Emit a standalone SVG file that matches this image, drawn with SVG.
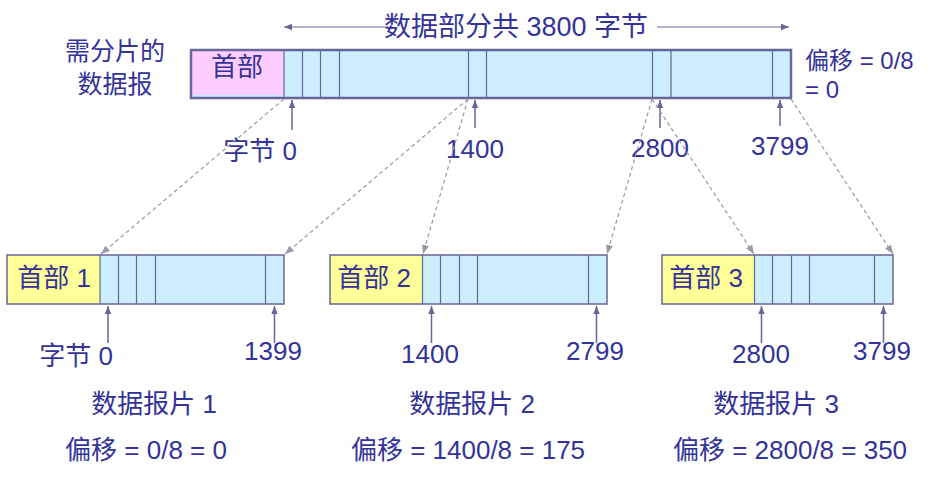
<svg xmlns="http://www.w3.org/2000/svg" width="940" height="481" viewBox="0 0 940 481">
<defs>
<style>
text{font-family:"Liberation Sans","Noto Sans CJK SC",sans-serif;font-size:26px;fill:#333399}
.m{text-anchor:middle}
.off{font-size:24px}
.data{fill:#cceeff;stroke:none}
.box{fill:none;stroke:#666699;stroke-width:2.5}
.fbox{fill:none;stroke:#666699;stroke-width:1.5}
.div{stroke:#666699;stroke-width:1.2}
.up{stroke:#666699;stroke-width:1.5;fill:none;marker-end:url(#ah)}
.dash{stroke:#9999aa;stroke-width:1.2;stroke-dasharray:4 3;fill:none;marker-end:url(#dh)}
.top{stroke:#666699;stroke-width:1.2;fill:none;marker-end:url(#ah)}
</style>
<marker id="ah" viewBox="0 0 10 10" refX="10" refY="5" markerWidth="8" markerHeight="8" markerUnits="userSpaceOnUse" orient="auto"><path d="M0,1 L10,5 L0,9 Z" fill="#666699"/></marker>
<marker id="dh" viewBox="0 0 10 10" refX="10" refY="5" markerWidth="9" markerHeight="9" markerUnits="userSpaceOnUse" orient="auto"><path d="M0,1 L10,5 L0,9 Z" fill="#9999aa"/></marker>
</defs>

<g id="title">
<line class="top" x1="388" y1="27" x2="284" y2="27"/>
<line class="top" x1="657" y1="27" x2="789" y2="27"/>
<text class="m" x="516" y="36" style="font-size:27px">数据部分共 3800 字节</text>
</g>

<g id="datagram">
<text class="m off" x="115" y="60" style="font-size:25px">需分片的</text>
<text class="m off" x="115" y="93" style="font-size:25px">数据报</text>
<rect class="data" x="191" y="50" width="600" height="48"/>
<rect x="191" y="50" width="93" height="45" fill="#ffccff"/>
<line class="div" x1="284" y1="50" x2="284" y2="98"/>
<line class="div" x1="302.5" y1="50" x2="302.5" y2="98"/>
<line class="div" x1="320.5" y1="50" x2="320.5" y2="98"/>
<line class="div" x1="339.5" y1="50" x2="339.5" y2="98"/>
<line class="div" x1="468.5" y1="50" x2="468.5" y2="98"/>
<line class="div" x1="486.5" y1="50" x2="486.5" y2="98"/>
<line class="div" x1="652.5" y1="50" x2="652.5" y2="98"/>
<line class="div" x1="671" y1="50" x2="671" y2="98"/>
<line class="div" x1="772.5" y1="50" x2="772.5" y2="98"/>
<rect class="box" x="191" y="50" width="600" height="48"/>
<text class="m" x="237" y="76">首部</text>
<text class="off" x="805" y="69">偏移 = 0/8</text>
<text class="off" x="805" y="98">= 0</text>
<text class="m" x="260" y="160">字节 0</text>
<text class="m" x="475" y="158">1400</text>
<text class="m" x="660" y="157">2800</text>
<text class="m" x="780" y="155">3799</text>
</g>

<g id="frag1">
<rect class="data" x="7" y="255" width="277" height="49"/>
<rect x="7" y="255" width="93" height="49" fill="#ffff99"/>
<line class="div" x1="100" y1="255" x2="100" y2="304"/>
<line class="div" x1="118.5" y1="255" x2="118.5" y2="304"/>
<line class="div" x1="136.5" y1="255" x2="136.5" y2="304"/>
<line class="div" x1="155.5" y1="255" x2="155.5" y2="304"/>
<line class="div" x1="265.5" y1="255" x2="265.5" y2="304"/>
<rect class="fbox" x="7" y="255" width="277" height="49"/>
<text class="m" x="54" y="287">首部 1</text>
<text class="m" x="76" y="365">字节 0</text>
<text class="m" x="273" y="360">1399</text>
<text class="m" x="154" y="413">数据报片 1</text>
<text class="m" x="146" y="459">偏移 = 0/8 = 0</text>
</g>

<g id="frag2">
<rect class="data" x="330" y="255" width="277" height="49"/>
<rect x="330" y="255" width="92" height="49" fill="#ffff99"/>
<line class="div" x1="422.5" y1="255" x2="422.5" y2="304"/>
<line class="div" x1="440.5" y1="255" x2="440.5" y2="304"/>
<line class="div" x1="459.5" y1="255" x2="459.5" y2="304"/>
<line class="div" x1="477.5" y1="255" x2="477.5" y2="304"/>
<line class="div" x1="588.5" y1="255" x2="588.5" y2="304"/>
<rect class="fbox" x="330" y="255" width="277" height="49"/>
<text class="m" x="374" y="287">首部 2</text>
<text class="m" x="430" y="363">1400</text>
<text class="m" x="595" y="360">2799</text>
<text class="m" x="472" y="413">数据报片 2</text>
<text class="m" x="468" y="459">偏移 = 1400/8 = 175</text>
</g>

<g id="frag3">
<rect class="data" x="662" y="255" width="231" height="49"/>
<rect x="662" y="255" width="92" height="49" fill="#ffff99"/>
<line class="div" x1="754.5" y1="255" x2="754.5" y2="304"/>
<line class="div" x1="772.5" y1="255" x2="772.5" y2="304"/>
<line class="div" x1="791.5" y1="255" x2="791.5" y2="304"/>
<line class="div" x1="809.5" y1="255" x2="809.5" y2="304"/>
<line class="div" x1="874.5" y1="255" x2="874.5" y2="304"/>
<rect class="fbox" x="662" y="255" width="231" height="49"/>
<text class="m" x="706" y="287">首部 3</text>
<text class="m" x="761" y="363">2800</text>
<text class="m" x="882" y="360">3799</text>
<text class="m" x="776" y="413">数据报片 3</text>
<text class="m" x="790" y="459">偏移 = 2800/8 = 350</text>
</g>

<g id="connectors">
<line class="up" x1="292" y1="130" x2="292" y2="100"/>
<line class="up" x1="475" y1="128" x2="475" y2="100"/>
<line class="up" x1="660" y1="128" x2="660" y2="100"/>
<line class="up" x1="780" y1="126" x2="780" y2="100"/>
<line class="up" x1="108" y1="343" x2="108" y2="306"/>
<line class="up" x1="274.5" y1="343" x2="274.5" y2="306"/>
<line class="up" x1="431.5" y1="343" x2="431.5" y2="306"/>
<line class="up" x1="596.5" y1="343" x2="596.5" y2="306"/>
<line class="up" x1="761.5" y1="343" x2="761.5" y2="306"/>
<line class="up" x1="883.5" y1="343" x2="883.5" y2="306"/>
<line class="dash" x1="284" y1="99" x2="101" y2="254"/>
<line class="dash" x1="468" y1="99" x2="285" y2="254"/>
<line class="dash" x1="468" y1="99" x2="423" y2="254"/>
<line class="dash" x1="652" y1="99" x2="607" y2="254"/>
<line class="dash" x1="652" y1="99" x2="754" y2="254"/>
<line class="dash" x1="791" y1="99" x2="893" y2="254"/>
</g>
</svg>
